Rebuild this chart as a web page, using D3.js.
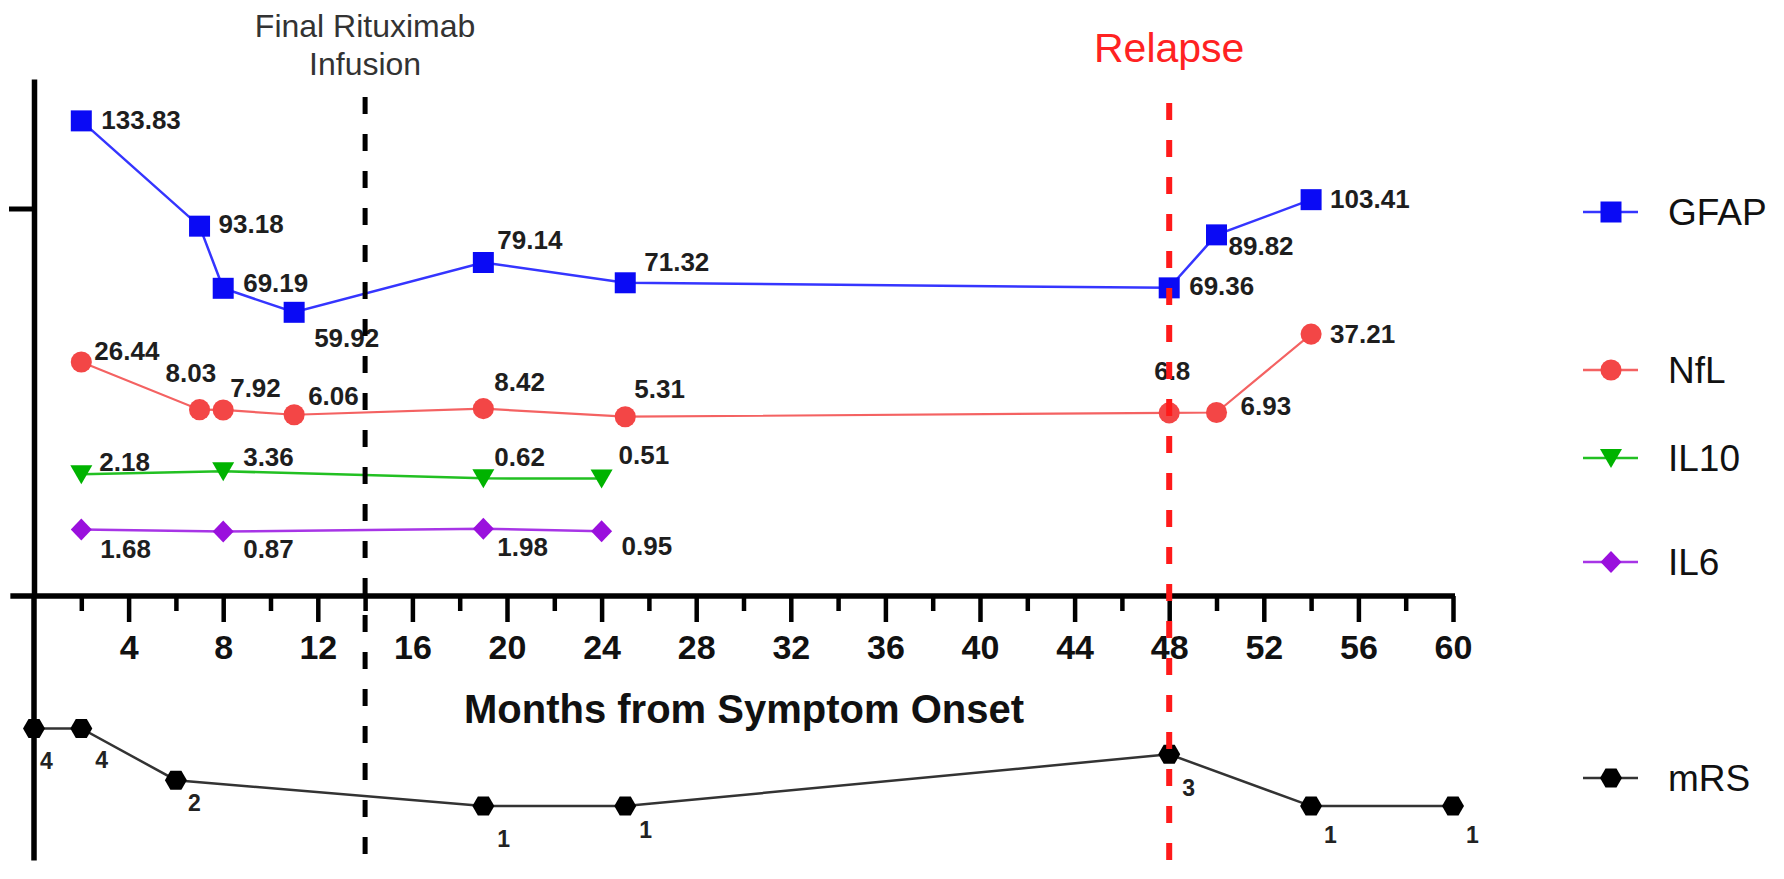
<!DOCTYPE html>
<html>
<head>
<meta charset="utf-8">
<script src="https://cdn.jsdelivr.net/npm/d3@7"></script>
<style>
  html, body { margin: 0; padding: 0; background: #fff; }
  text { font-family: "Liberation Sans", Arial, sans-serif; }
</style>
</head>
<body>
<div id="chart"></div>
<script>
// Data
const gfapMonths = [2, 7, 8, 11, 19, 25, 48, 50, 54]
const gfapValues = [133.83, 93.18, 69.19, 59.92, 79.14, 71.32, 69.36, 89.82, 103.41]
const nflMonths = [2, 7, 8, 11, 19, 25, 48, 50, 54]
const nflValues = [26.44, 8.03, 7.92, 6.06, 8.42, 5.31, 6.8, 6.93, 37.21]
const il10Months = [2, 8, 19, 24]
const il10Values = [2.18, 3.36, 0.62, 0.51]
const il6Months = [2, 8, 19, 24]
const il6Values = [1.68, 0.87, 1.98, 0.95]
const mrsMonths = [0, 2, 6, 19, 25, 48, 54, 60]
const mrsValues = [4, 4, 2, 1, 1, 3, 1, 1]
const majorTicks = [4, 8, 12, 16, 20, 24, 28, 32, 36, 40, 44, 48, 52, 56, 60]
const minorTicks = [2, 6, 10, 14, 18, 22, 26, 30, 34, 38, 42, 46, 50, 54, 58]
const eventMonths = [14, 48]
const eventLabels = [["Final Rituximab", "Infusion"], ["Relapse"]]

// label placement (dx, dy from the point)
const gfapLabelPos = [[20, 8], [19, 7], [20, 4], [20, 35], [14, -14], [19, -12], [20, 7], [12, 20], [19, 8]]
const nflLabelPos = [[13, -2], [-34, -28], [7, -13], [14, -10], [11, -18], [9, -19], [-15, -33], [24, 2], [19, 9]]
const il10LabelPos = [[18, -3], [20, -5], [11, -12], [17, -15]]
const il6LabelPos = [[19, 29], [20, 26], [14, 27], [20, 24]]
const mrsLabelPos = [[6, 41], [14, 40], [12, 31], [14, 41], [14, 32], [13, 42], [13, 37], [13, 37]]

const WIDTH = 1784
const HEIGHT = 879
const AXIS_Y = 596

const svg = d3.select("#chart").append("svg")
    .attr("width", WIDTH)
    .attr("height", HEIGHT)
    .style("background", "#fff")

// Scales
const x = d3.scaleLinear().domain([0, 60]).range([34, 1453])
const yBio = d3.scaleLinear().domain([-50, 150]).range([597, 79])
const yMrs = d3.scaleLinear().domain([0, 4]).range([832, 728.4])

// symbol paths
const shapes = {
    square: "M-10.5,-10.5H10.5V10.5H-10.5Z",
    circle: d3.symbol(d3.symbolCircle, 350)(),
    triDown: "M-11,-9L11,-9L0,10Z",
    diamond: "M0,-11L10.5,0L0,11L-10.5,0Z",
    hexagon: "M-11,0L-5.5,-9.5L5.5,-9.5L11,0L5.5,9.5L-5.5,9.5Z"
}

const series = [
    { name: "GFAP", months: gfapMonths, values: gfapValues, offset: 0, color: "#0a0af5", line: "#3535ff", width: 2.5, shape: "square", labels: gfapLabelPos, legendY: 212 },
    { name: "NfL", months: nflMonths, values: nflValues, offset: 14.3, color: "#f34646", line: "#f46262", width: 2.2, shape: "circle", labels: nflLabelPos, legendY: 370 },
    { name: "IL10", months: il10Months, values: il10Values, offset: -4.8, color: "#00b300", line: "#22c022", width: 2.5, shape: "triDown", labels: il10LabelPos, legendY: 458 },
    { name: "IL6", months: il6Months, values: il6Values, offset: -25.6, color: "#9a10dd", line: "#a735e6", width: 2.5, shape: "diamond", labels: il6LabelPos, legendY: 562 }
]

const g = svg.append("g")

// Axes
const xMajor = d3.axisBottom(x).tickValues(majorTicks).tickSize(26).tickSizeOuter(0)
const xMinor = d3.axisBottom(x).tickValues(minorTicks).tickSize(15).tickSizeOuter(0).tickFormat("")

const gMinor = g.append("g").attr("transform", `translate(0, ${AXIS_Y})`).call(xMinor)
gMinor.select(".domain").remove()
gMinor.selectAll("line").attr("stroke", "#000").attr("stroke-width", 4.5)

const gMajor = g.append("g").attr("transform", `translate(0, ${AXIS_Y})`).call(xMajor)
gMajor.select(".domain").remove()
gMajor.selectAll("line").attr("stroke", "#000").attr("stroke-width", 4.5)
gMajor.selectAll("text")
    .attr("y", 63)
    .attr("dy", null)
    .attr("fill", "#111")
    .attr("font-size", "34px")
    .attr("font-weight", "bold")
    .style("font-family", "'Liberation Sans', Arial, sans-serif")

g.append("line")
    .attr("x1", x(-1)).attr("x2", x(60) + 2)
    .attr("y1", AXIS_Y).attr("y2", AXIS_Y)
    .attr("stroke", "#000").attr("stroke-width", 5.5)

const yAxis = d3.axisLeft(yBio).tickValues([100]).tickSize(25).tickSizeOuter(0).tickFormat("")
const gY = g.append("g").attr("transform", `translate(${x(0)}, 0)`).call(yAxis)
gY.select(".domain").attr("stroke", "#000").attr("stroke-width", 5.5)
gY.selectAll("line").attr("stroke", "#000").attr("stroke-width", 5)

g.append("line")
    .attr("x1", x(0)).attr("x2", x(0))
    .attr("y1", AXIS_Y).attr("y2", yMrs(-1.1))
    .attr("stroke", "#000").attr("stroke-width", 5.5)

g.append("text")
    .attr("x", 744).attr("y", 723)
    .attr("text-anchor", "middle")
    .attr("font-size", "40px").attr("font-weight", "bold")
    .attr("fill", "#111")
    .text("Months from Symptom Onset")

// Biomarker series
series.forEach(s => {
    const pts = s.months.map((m, i) => ({ m: m, v: s.values[i], pos: s.labels[i] }))
    const yy = d => yBio(d.v + s.offset)
    const line = d3.line().x(d => x(d.m)).y(yy)

    g.append("path")
        .datum(pts)
        .attr("d", line)
        .attr("fill", "none")
        .attr("stroke", s.line)
        .attr("stroke-width", s.width)

    g.selectAll(".pt-" + s.name)
        .data(pts)
        .enter().append("path")
        .attr("d", shapes[s.shape])
        .attr("transform", d => `translate(${x(d.m)}, ${yy(d)})`)
        .attr("fill", s.color)

    g.selectAll(".lb-" + s.name)
        .data(pts)
        .enter().append("text")
        .attr("x", d => x(d.m) + d.pos[0])
        .attr("y", d => yy(d) + d.pos[1])
        .attr("font-size", "26px")
        .attr("font-weight", "bold")
        .attr("fill", "#1e1e1e")
        .text(d => d.v)
})

// mRS series
const mrsPts = mrsMonths.map((m, i) => ({ m: m, v: mrsValues[i], pos: mrsLabelPos[i] }))
g.append("path")
    .datum(mrsPts)
    .attr("d", d3.line().x(d => x(d.m)).y(d => yMrs(d.v)))
    .attr("fill", "none")
    .attr("stroke", "#333")
    .attr("stroke-width", 2.5)

g.selectAll(".pt-mrs")
    .data(mrsPts)
    .enter().append("path")
    .attr("d", shapes.hexagon)
    .attr("transform", d => `translate(${x(d.m)}, ${yMrs(d.v)})`)
    .attr("fill", "#000")

g.selectAll(".lb-mrs")
    .data(mrsPts)
    .enter().append("text")
    .attr("x", d => x(d.m) + d.pos[0])
    .attr("y", d => yMrs(d.v) + d.pos[1])
    .attr("font-size", "23px")
    .attr("font-weight", "bold")
    .attr("fill", "#222")
    .text(d => d.v)

// Event markers (drawn on top)
const eventStyle = [
    { color: "#000", width: 5, top: 97, textColor: "#333", size: 32, baselines: [37, 75] },
    { color: "#ff1a1a", width: 6, top: 103, textColor: "#ff2222", size: 41, baselines: [62] }
]
eventMonths.forEach((m, i) => {
    const st = eventStyle[i]
    g.append("line")
        .attr("x1", x(m)).attr("x2", x(m))
        .attr("y1", st.top).attr("y2", 868)
        .attr("stroke", st.color)
        .attr("stroke-width", st.width)
        .attr("stroke-dasharray", "17,20")
    eventLabels[i].forEach((t, j) => {
        g.append("text")
            .attr("x", x(m)).attr("y", st.baselines[j])
            .attr("text-anchor", "middle")
            .attr("font-size", st.size + "px")
            .attr("fill", st.textColor)
            .text(t)
    })
})

// Legend
const legendItems = series.map(s => ({ name: s.name, color: s.color, line: s.line, shape: s.shape, y: s.legendY }))
legendItems.push({ name: "mRS", color: "#000", line: "#333", shape: "hexagon", y: 778 })

const legend = g.selectAll(".legend")
    .data(legendItems)
    .enter().append("g")
    .attr("transform", d => `translate(0, ${d.y})`)

legend.append("line")
    .attr("x1", 1583).attr("x2", 1638)
    .attr("stroke", d => d.line)
    .attr("stroke-width", 2.5)
legend.append("path")
    .attr("d", d => shapes[d.shape])
    .attr("transform", "translate(1611, 0)")
    .attr("fill", d => d.color)
legend.append("text")
    .attr("x", 1668).attr("y", 13)
    .attr("font-size", "37px")
    .attr("fill", "#111")
    .text(d => d.name)
</script>
</body>
</html>
